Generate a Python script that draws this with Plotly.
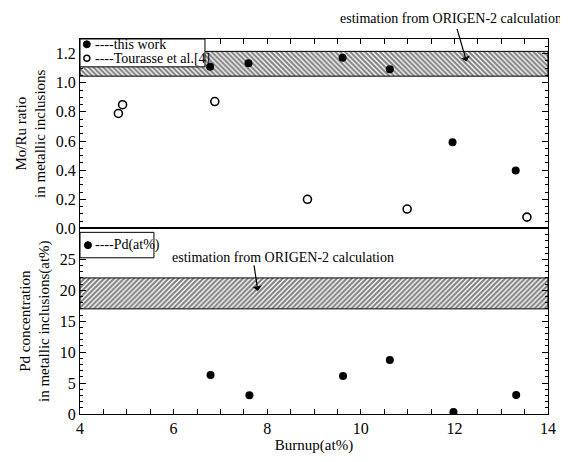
import plotly.graph_objects as go

# ---------------- data ----------------
burnup_this_work = [6.78, 7.60, 9.61, 10.62, 11.96, 13.31]
moru_this_work = [1.109, 1.133, 1.171, 1.093, 0.591, 0.398]

burnup_tourasse = [4.82, 4.91, 6.88, 8.86, 10.99, 13.55]
moru_tourasse = [0.789, 0.849, 0.871, 0.200, 0.133, 0.078]

burnup_pd = [6.79, 7.62, 9.62, 10.62, 11.98, 13.32]
pd_conc = [6.29, 3.04, 6.13, 8.75, 0.31, 3.09]

band_x = [4, 14]
moru_band = [1.045, 1.215]   # ORIGEN-2 estimation
pd_band = [17.0, 22.0]       # ORIGEN-2 estimation

x_ticks = [4, 6, 8, 10, 12, 14]
moru_ticks = [0.0, 0.2, 0.4, 0.6, 0.8, 1.0, 1.2]
pd_ticks = [0, 5, 10, 15, 20, 25]

FONT = "Liberation Serif, Times New Roman, serif"

# page has an 8px body margin: figure is sized so the plot area lands at
# x 75..555, y 39..423 of the 568x462 window
W, H = 560, 454
ML, MR, MT, MB = 67, 13, 31, 39
PW, PH = W - ML - MR, H - MT - MB   # 480 x 384

def band_xy(xr, yr):
    return ([xr[0], xr[1], xr[1], xr[0], xr[0]],
            [yr[0], yr[0], yr[1], yr[1], yr[0]])

fig = go.Figure()

bx, by = band_xy(band_x, moru_band)
fig.add_trace(go.Scatter(x=bx, y=by, xaxis="x", yaxis="y", mode="lines",
                         fill="toself", fillcolor="white",
                         fillpattern=dict(shape="\\", size=3.5, solidity=0.6,
                                          fgcolor="black", bgcolor="white"),
                         line=dict(color="black", width=1), showlegend=False,
                         hoverinfo="skip"))
bx2, by2 = band_xy(band_x, pd_band)
fig.add_trace(go.Scatter(x=bx2, y=by2, xaxis="x2", yaxis="y2", mode="lines",
                         fill="toself", fillcolor="white",
                         fillpattern=dict(shape="/", size=3.5, solidity=0.6,
                                          fgcolor="black", bgcolor="white"),
                         line=dict(color="black", width=1), showlegend=False,
                         hoverinfo="skip"))

fig.add_trace(go.Scatter(x=burnup_this_work, y=moru_this_work, xaxis="x", yaxis="y",
                         mode="markers", name="this work",
                         marker=dict(symbol="circle", size=8, color="black"),
                         showlegend=False))
fig.add_trace(go.Scatter(x=burnup_tourasse, y=moru_tourasse, xaxis="x", yaxis="y",
                         mode="markers", name="Tourasse et al.[4]",
                         marker=dict(symbol="circle-open", size=8, color="black",
                                     line=dict(width=1.6)),
                         showlegend=False))
fig.add_trace(go.Scatter(x=burnup_pd, y=pd_conc, xaxis="x2", yaxis="y2",
                         mode="markers", name="Pd(at%)",
                         marker=dict(symbol="circle", size=8, color="black"),
                         showlegend=False))

split = 190 / 384

axis_common = dict(showline=True, linecolor="black", linewidth=1, ticks="inside",
                   tickcolor="black", showgrid=False, zeroline=False,
                   tickfont=dict(family=FONT, size=16, color="black"))

fig.update_layout(
    width=W, height=H,
    margin=dict(l=ML, r=MR, t=MT, b=MB),
    paper_bgcolor="white", plot_bgcolor="white",
    font=dict(family=FONT, color="black", size=14),
    showlegend=False,
    xaxis=dict(axis_common, anchor="y", range=[4, 14], side="top", mirror=True,
               tickvals=x_ticks, showticklabels=False, ticklen=5,
               minor=dict(dtick=0.5, tick0=4, ticklen=5, ticks="inside", tickcolor="black"),
               matches="x2"),
    xaxis2=dict(axis_common, anchor="y2", range=[4, 14], mirror=True,
                tickvals=x_ticks, ticklen=5,
                minor=dict(dtick=0.5, tick0=4, ticklen=5, ticks="inside", tickcolor="black"),
                title=dict(text="Burnup(at%)", font=dict(family=FONT, size=15), standoff=2)),
    yaxis=dict(axis_common, domain=[split, 1], anchor="x", range=[0, 1.3],
               mirror="ticks", tickvals=moru_ticks, tickformat=".1f", ticklen=6,
               minor=dict(dtick=0.05, tick0=0, ticklen=3, ticks="inside", tickcolor="black"),
               title=dict(text="Mo/Ru ratio<br>in metallic inclusions",
                          font=dict(family=FONT, size=15), standoff=6)),
    yaxis2=dict(axis_common, domain=[0, split], anchor="x2", range=[0, 30],
                mirror="ticks", tickvals=pd_ticks, ticklen=6,
                minor=dict(dtick=1, tick0=0, ticklen=3, ticks="inside", tickcolor="black"),
                title=dict(text="Pd concentration<br>in metallic inclusions(at%)",
                           font=dict(family=FONT, size=15), standoff=6)),
)

# ---- legend boxes (drawn as shapes + text) ----
fig.add_shape(type="rect", xref="x domain", yref="y domain",
              x0=0, x1=0.267, y0=0.853, y1=1,
              fillcolor="white", line=dict(color="black", width=1), layer="above")
fig.add_shape(type="circle", xref="x domain", yref="y domain",
              xsizemode="pixel", ysizemode="pixel", xanchor=0.0146, yanchor=0.972,
              x0=-3.5, x1=3.5, y0=-3.5, y1=3.5,
              fillcolor="black", line=dict(color="black", width=1), layer="above")
fig.add_shape(type="circle", xref="x domain", yref="y domain",
              xsizemode="pixel", ysizemode="pixel", xanchor=0.0146, yanchor=0.898,
              x0=-3, x1=3, y0=-3, y1=3,
              fillcolor="white", line=dict(color="black", width=1.4), layer="above")
fig.add_annotation(text="----this work", xref="x domain", yref="y domain",
                   x=0.027, y=0.972, xanchor="left", yanchor="middle", showarrow=False,
                   font=dict(family=FONT, size=14))
fig.add_annotation(text="----Tourasse et al.[4]", xref="x domain", yref="y domain",
                   x=0.027, y=0.898, xanchor="left", yanchor="middle", showarrow=False,
                   font=dict(family=FONT, size=14))

fig.add_shape(type="rect", xref="x2 domain", yref="y2 domain",
              x0=0, x1=0.158, y0=0.842, y1=0.979,
              fillcolor="white", line=dict(color="black", width=1), layer="above")
fig.add_shape(type="circle", xref="x2 domain", yref="y2 domain",
              xsizemode="pixel", ysizemode="pixel", xanchor=0.017, yanchor=0.91,
              x0=-3.5, x1=3.5, y0=-3.5, y1=3.5,
              fillcolor="black", line=dict(color="black", width=1), layer="above")
fig.add_annotation(text="----Pd(at%)", xref="x2 domain", yref="y2 domain",
                   x=0.027, y=0.91, xanchor="left", yanchor="middle", showarrow=False,
                   font=dict(family=FONT, size=14))

# ---- ORIGEN-2 annotations (positions in window pixels -> paper) ----
def px_to_paper(px, py):
    return (px - 8 - ML) / PW, (H - MB - (py - 8)) / PH

tx, ty = px_to_paper(455, 18)
fig.add_annotation(text="estimation from ORIGEN-2 calculation", xref="paper", yref="paper",
                   x=tx, y=ty, xanchor="center", yanchor="middle",
                   showarrow=False, font=dict(family=FONT, size=14))
fig.add_annotation(text="", x=12.26, y=1.146, xref="x", yref="y",
                   ax=-10, ay=-34, showarrow=True, arrowhead=1, arrowsize=1.3,
                   arrowwidth=1.2, arrowcolor="black")

tx2, ty2 = px_to_paper(283, 263)
fig.add_annotation(text="estimation from ORIGEN-2 calculation", xref="paper", yref="paper",
                   x=tx2, y=ty2, xanchor="center", yanchor="middle",
                   showarrow=False, font=dict(family=FONT, size=14))
fig.add_annotation(text="", x=7.80, y=19.9, xref="x2", yref="y2",
                   ax=-4, ay=-27, showarrow=True, arrowhead=1, arrowsize=1.3,
                   arrowwidth=1.2, arrowcolor="black")

fig.write_html("out.html")
